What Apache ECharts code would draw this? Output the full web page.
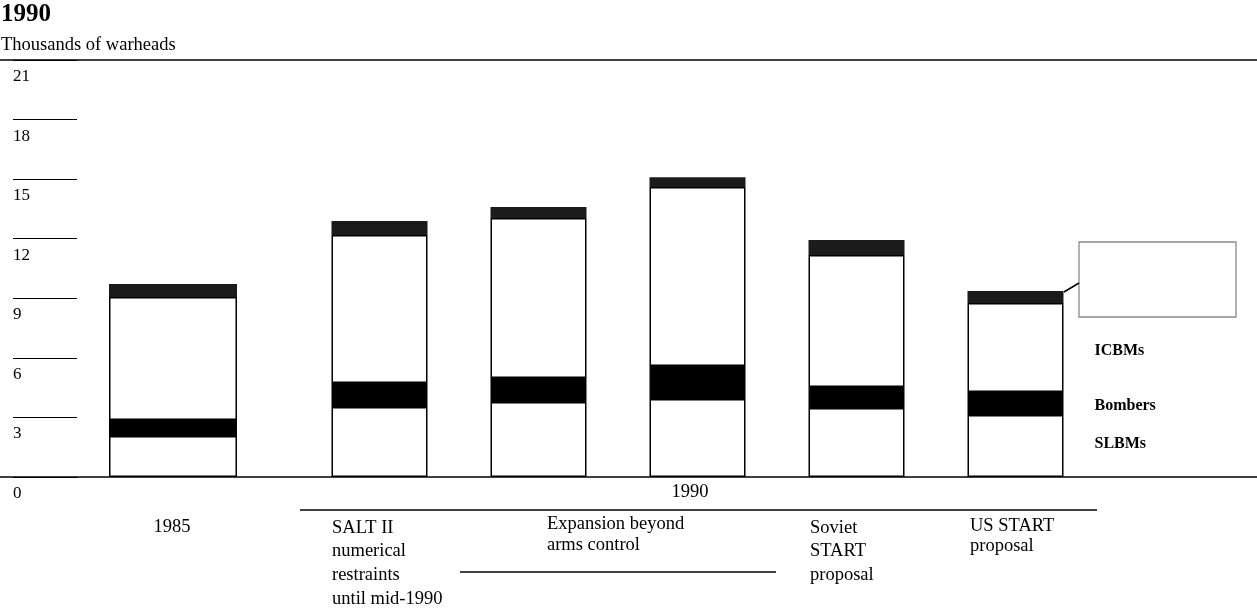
<!DOCTYPE html>
<html><head><meta charset="utf-8">
<script src="https://cdn.jsdelivr.net/npm/echarts@6/dist/echarts.min.js"></script>
<style>html,body{margin:0;padding:0;background:#fff}#c{width:1257px;height:611px}</style>
</head><body><div id="c"></div>
<script>
// ---- data (thousands of warheads) ----
const categories1985 = ['1985'];
const categories1990 = ['SALT II numerical restraints until mid-1990', 'Expansion beyond arms control (a)', 'Expansion beyond arms control (b)', 'Soviet START proposal', 'US START proposal'];
const seriesNames = ['SLBMs', 'Bombers', 'ICBMs', 'Other'];
const slbms   = [2.06, 3.53, 3.78, 3.93, 3.47, 3.12];
const bombers = [0.81, 1.20, 1.21, 1.66, 1.06, 1.16];
const icbms   = [6.19, 7.46, 8.05, 9.01, 6.65, 4.48];
const other   = [0.66, 0.70, 0.56, 0.49, 0.76, 0.61];
const yMin = 0, yMax = 21, yInterval = 3;

const FONT = 'Liberation Serif';
const chart = echarts.init(document.getElementById('c'), null, {renderer: 'canvas'});

const styles = [
  {color: '#fff', borderColor: '#000', borderWidth: 1.5},
  {color: '#000'},
  {color: '#fff', borderColor: '#000', borderWidth: 1.5},
  {color: '#1b1b1b'}
];
const allData = [slbms, bombers, icbms, other];
const labelOffsets = [[0, -2], [0, 2], [0, 3]];

function makeSeries(axisIdx, from, to, barWidth, labelLast) {
  return allData.map((arr, i) => ({
    type: 'bar', name: seriesNames[i], stack: 'g' + axisIdx,
    xAxisIndex: axisIdx, yAxisIndex: axisIdx,
    barWidth: barWidth, data: arr.slice(from, to),
    itemStyle: styles[i],
    animation: false,
    label: (labelLast && i < 3) ? {
      show: true, position: 'right', distance: 31, offset: labelOffsets[i],
      fontFamily: FONT, fontSize: 16, fontWeight: 'bold', color: '#000',
      formatter: p => p.dataIndex === (to - from - 1) ? p.seriesName : ''
    } : {show: false}
  }));
}

const hiddenY = idx => ({type: 'value', gridIndex: idx, min: yMin, max: yMax, interval: yInterval, show: false});
const txt = (x, y, text, opt) => Object.assign({
  type: 'text', x: x, y: y,
  style: Object.assign({text: text, fill: '#000', font: '18.5px "' + FONT + '"', textAlign: 'left', textVerticalAlign: 'middle'}, opt || {})
});
const line = (x1, y1, x2, y2, w, c) => ({type: 'line', shape: {x1, y1, x2, y2}, style: {stroke: c || '#000', lineWidth: w || 1.3}});

chart.setOption({
  backgroundColor: '#fff',
  animation: false,
  title: {
    text: '1990', subtext: 'Thousands of warheads', left: -4, top: -3, itemGap: 9,
    textStyle: {fontFamily: FONT, fontSize: 25, fontWeight: 'bold', color: '#000'},
    subtextStyle: {fontFamily: FONT, fontSize: 18.5, color: '#000'}
  },
  grid: [
    {left: 0, right: 0, top: 60, height: 417},
    {left: 77, width: 192, top: 60, height: 417},
    {left: 300, width: 795, top: 60, height: 417}
  ],
  xAxis: [
    {type: 'value', gridIndex: 0, min: 0, max: 1, position: 'bottom', axisLine: {show: true, lineStyle: {color: '#000', width: 1.5}}, axisTick: {show: false}, axisLabel: {show: false}, splitLine: {show: false}},
    {type: 'category', gridIndex: 1, data: categories1985, show: false},
    {type: 'category', gridIndex: 2, data: categories1990, show: false},
    {type: 'value', gridIndex: 0, min: 0, max: 1, position: 'top', axisLine: {show: true, lineStyle: {color: '#000', width: 1.5}}, axisTick: {show: false}, axisLabel: {show: false}, splitLine: {show: false}}
  ],
  yAxis: [
    hiddenY(0),
    {type: 'value', gridIndex: 1, min: yMin, max: yMax, interval: yInterval, position: 'left',
     axisLine: {show: false}, splitLine: {show: false},
     axisTick: {show: true, length: 64, lineStyle: {color: '#000', width: 1.2}},
     axisLabel: {show: true, showMinLabel: true, showMaxLabel: true, align: 'left', margin: 64, verticalAlign: 'top', padding: [8, 0, 0, 0], fontFamily: FONT, fontSize: 17, color: '#000'}},
    hiddenY(2)
  ],
  series: [].concat(makeSeries(1, 0, 1, 128, false), makeSeries(2, 1, 6, 96, true)),
  graphic: [
    {type: 'rect', shape: {x: 1079, y: 242, width: 157, height: 75}, style: {fill: 'none', stroke: '#8a8a8a', lineWidth: 1.3}},
    line(1064, 292, 1079, 283, 1.5),
    txt(690, 492, '1990', {textAlign: 'center'}),
    line(300, 510, 1097, 510, 1.5),
    txt(172, 527, '1985', {textAlign: 'center'}),
    txt(332, 516, 'SALT II\nnumerical\nrestraints\nuntil mid-1990', {textVerticalAlign: 'top', lineHeight: 23.7}),
    txt(547, 514, 'Expansion beyond\narms control', {textVerticalAlign: 'top', lineHeight: 21}),
    line(460, 572, 776, 572, 1.3),
    txt(810, 516, 'Soviet\nSTART\nproposal', {textVerticalAlign: 'top', lineHeight: 23.5}),
    txt(970, 516, 'US START\nproposal', {textVerticalAlign: 'top', lineHeight: 20})
  ]
});
</script></body></html>
